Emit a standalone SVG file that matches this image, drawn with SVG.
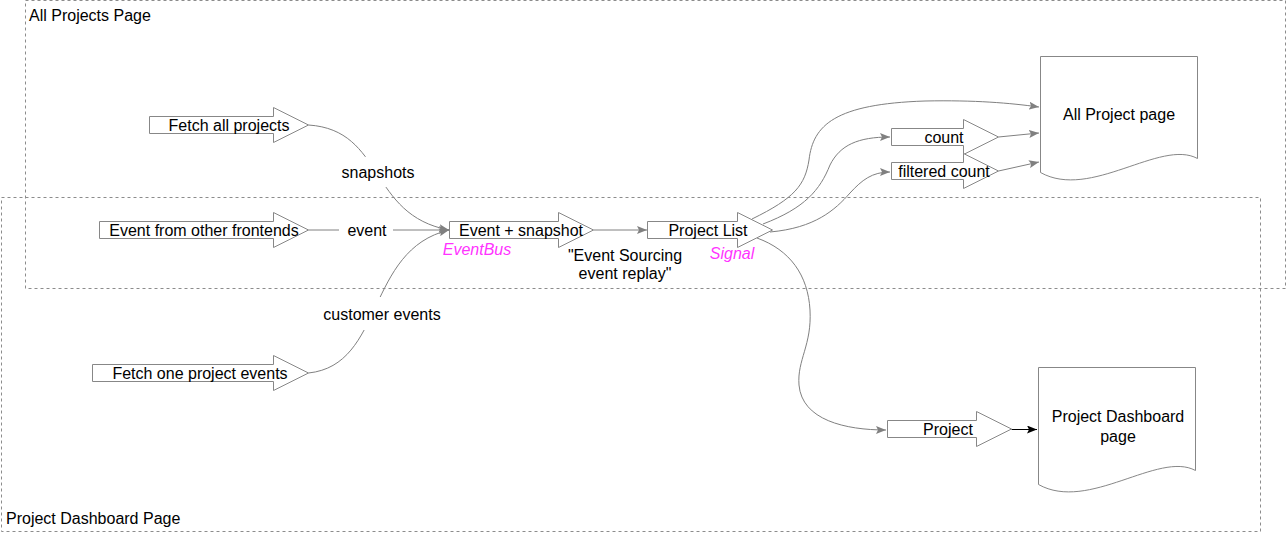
<svg xmlns="http://www.w3.org/2000/svg" width="1286" height="533" viewBox="0 0 1286 533">
<style>
.cont{fill:none;stroke:#8c8c8c;stroke-width:1;stroke-dasharray:3 3}
.clabel{font-family:"Liberation Sans",Arial,Helvetica,sans-serif;font-size:16px;fill:#000}
.shape{fill:#fff;stroke:#878787;stroke-width:1}
.t{font-family:"Liberation Sans",Arial,Helvetica,sans-serif;font-size:16px;fill:#000;text-anchor:middle}
.tag{font-family:"Liberation Sans",Arial,Helvetica,sans-serif;font-size:16px;font-style:italic;fill:#FF33FF;text-anchor:middle}
.edge{fill:none;stroke:#808080;stroke-width:1;marker-end:url(#ag)}
.edgeb{fill:none;stroke:#000;stroke-width:1;marker-end:url(#ab)}
.bg{fill:#fff;stroke:none}
</style>
<defs>
<marker id="ag" markerUnits="userSpaceOnUse" markerWidth="10" markerHeight="8" refX="10" refY="4" orient="auto">
<path d="M0,0 L10,4 L0,8 L2,4 Z" fill="#808080"/>
</marker>
<marker id="ab" markerUnits="userSpaceOnUse" markerWidth="10" markerHeight="8" refX="10" refY="4" orient="auto">
<path d="M0,0 L10,4 L0,8 L2,4 Z" fill="#000"/>
</marker>
</defs>

<g id="container-all-projects">
<rect class="cont" x="25.5" y="0.5" width="1260" height="288"/>
<text class="clabel" x="29" y="21">All Projects Page</text>
</g>
<g id="container-project-dashboard">
<rect class="cont" x="1.5" y="197.5" width="1259" height="334"/>
<text class="clabel" x="6" y="524">Project Dashboard Page</text>
</g>

<g id="connectors">
<path class="edge" d="M308.5,125 C385,130 368,215 449,230"/>
<path class="edge" d="M308.5,230 H449"/>
<path class="edge" d="M308.5,373 C385,365 365,250 449,230"/>
<path class="edge" d="M593.5,230 H647"/>
<path class="edge" d="M752,219 C795,198 805,185 809,160 C813,125 835,104 925,101 C975,100 1010,103 1039,107"/>
<path class="edge" d="M763,224 C805,208 820,190 830,165 C840,145 858,137 890,137"/>
<path class="edge" d="M770,232 C815,228 835,210 850,193 C862,180 872,172 890,172"/>
<path class="edge" d="M998.5,137 L1039,133"/>
<path class="edge" d="M998.5,171 L1039,162"/>
<path class="edge" d="M757,238 C790,250 808,275 810,310 C812,345 797,360 799,385 C802,420 845,430 886,430"/>
<path class="edgeb" d="M1011.5,429.5 H1037"/>
<rect class="bg" x="340" y="157" width="76" height="30"/>
<text class="t" x="378" y="178">snapshots</text>
<rect class="bg" x="339" y="220" width="54" height="20"/>
<text class="t" x="367" y="236">event</text>
<rect class="bg" x="321" y="297" width="122" height="33"/>
<text class="t" x="382" y="320">customer events</text>
<text class="t" x="625" y="261">"Event Sourcing</text>
<text class="t" x="625" y="279">event replay"</text>
</g>

<g id="node-fetch-all">
<path class="shape" d="M149.5,116.5 H273.5 V107.5 L308.5,125 L273.5,142.5 V133.5 H149.5 Z"/>
<text class="t" x="229" y="131">Fetch all projects</text>
</g>
<g id="node-event-other">
<path class="shape" d="M99.5,221.5 H273.5 V212.5 L308.5,230 L273.5,247.5 V238.5 H99.5 Z"/>
<text class="t" x="204" y="236">Event from other frontends</text>
</g>
<g id="node-fetch-one">
<path class="shape" d="M92.5,364.5 H273.5 V355.5 L308.5,373 L273.5,390.5 V381.5 H92.5 Z"/>
<text class="t" x="200" y="379">Fetch one project events</text>
</g>
<g id="node-event-snapshot">
<path class="shape" d="M449.5,221.5 H558.5 V212.5 L593.5,230 L558.5,247.5 V238.5 H449.5 Z"/>
<text class="t" x="521" y="236">Event + snapshot</text>
<text class="tag" x="477" y="255">EventBus</text>
</g>
<g id="node-project-list">
<path class="shape" d="M647.5,221.5 H737.5 V212.5 L772.5,230 L737.5,247.5 V238.5 H647.5 Z"/>
<text class="t" x="708" y="236">Project List</text>
<text class="tag" x="732" y="259">Signal</text>
</g>
<g id="node-count">
<path class="shape" d="M891.5,128.5 H963.5 V119.5 L998.5,137 L963.5,154.5 V145.5 H891.5 Z"/>
<text class="t" x="944" y="143">count</text>
</g>
<g id="node-filtered-count">
<path class="shape" d="M891.5,162.5 H963.5 V153.5 L998.5,171 L963.5,188.5 V179.5 H891.5 Z"/>
<text class="t" x="944" y="177">filtered count</text>
</g>
<g id="node-project">
<path class="shape" d="M887.5,420.5 H976.5 V411.5 L1011.5,429 L976.5,446.5 V437.5 H887.5 Z"/>
<text class="t" x="948" y="435">Project</text>
</g>
<g id="node-all-project-page">
<path class="shape" d="M1040.5,56.5 H1197.5 V158.5 C1160.5,138.5 1090.5,200.5 1040.5,172.5 Z"/>
<text class="t" x="1119" y="120">All Project page</text>
</g>
<g id="node-project-dashboard-page">
<path class="shape" d="M1038.5,367.5 H1195.5 V470.5 C1158.5,450.5 1088.5,512.5 1038.5,484.5 Z"/>
<text class="t" x="1118" y="422">Project Dashboard</text>
<text class="t" x="1118" y="442">page</text>
</g>
</svg>
